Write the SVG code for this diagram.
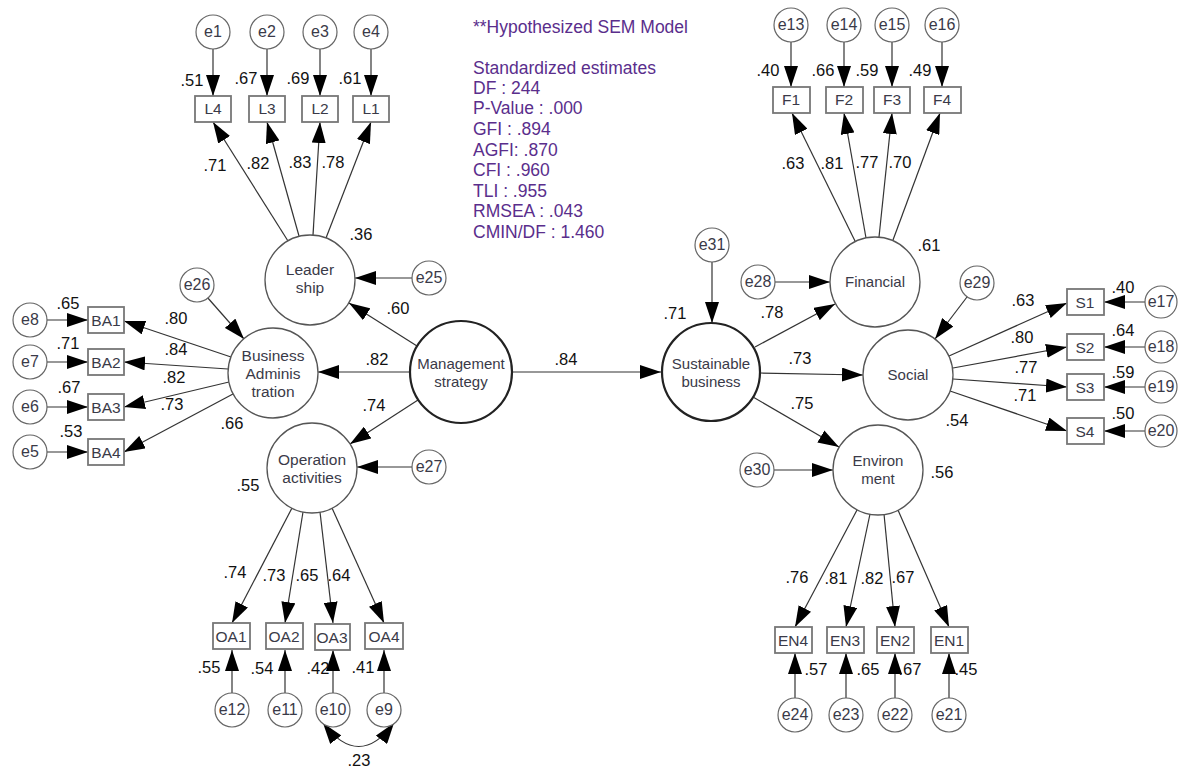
<svg xmlns="http://www.w3.org/2000/svg" width="1178" height="770" viewBox="0 0 1178 770">
<style>
.bg{fill:#fff}
.err{fill:#fff;stroke:#666;stroke-width:1.2}
.lat{fill:#fff;stroke:#555;stroke-width:1.3}
.lat2{fill:#fff;stroke:#222;stroke-width:2.2}
.box{fill:#fff;stroke:#777;stroke-width:1.8}
.lbl{font-family:"Liberation Sans",Arial,sans-serif;font-size:15.5px;fill:#3a3a48;text-anchor:middle}
.el{font-family:"Liberation Sans",Arial,sans-serif;font-size:16px;fill:#3a3a48;text-anchor:middle}
.num{font-family:"Liberation Sans",Arial,sans-serif;font-size:16.5px;fill:#111;text-anchor:middle}
.stat{font-family:"Liberation Sans",Arial,sans-serif;font-size:17.5px;fill:#5a2e8c}
.c line,.c path{stroke:#333;stroke-width:1.2;fill:none;marker-end:url(#ah)}
</style>
<defs>
<marker id="ah" viewBox="0 0 21 14" refX="21" refY="7" markerWidth="21" markerHeight="14" orient="auto" markerUnits="userSpaceOnUse"><path d="M0,0 L21,7 L0,14 z" fill="#000"/></marker>
<marker id="ahs" viewBox="0 0 21 14" refX="21" refY="7" markerWidth="21" markerHeight="14" orient="auto-start-reverse" markerUnits="userSpaceOnUse"><path d="M0,0 L21,7 L0,14 z" fill="#000"/></marker>
</defs>
<rect class="bg" width="1178" height="770"/>

<g id="connectors" class="c">
<line x1="288" y1="241" x2="213" y2="122"/>
<line x1="299" y1="236" x2="267" y2="122"/>
<line x1="313" y1="235" x2="320" y2="122"/>
<line x1="326" y1="238" x2="371" y2="122"/>
<line x1="213" y1="49" x2="213" y2="96"/>
<line x1="267" y1="49" x2="267" y2="96"/>
<line x1="320" y1="49" x2="320" y2="96"/>
<line x1="371" y1="49" x2="371" y2="96"/>
<line x1="855" y1="241" x2="792" y2="113"/>
<line x1="866" y1="238" x2="844" y2="113"/>
<line x1="879" y1="237" x2="892" y2="113"/>
<line x1="893" y1="240" x2="940" y2="113"/>
<line x1="791" y1="42" x2="791" y2="87"/>
<line x1="844" y1="42" x2="844" y2="87"/>
<line x1="892" y1="42" x2="892" y2="87"/>
<line x1="942" y1="42" x2="942" y2="87"/>
<line x1="231" y1="357" x2="124" y2="321"/>
<line x1="228" y1="369" x2="124" y2="362"/>
<line x1="229" y1="382" x2="124" y2="407"/>
<line x1="233" y1="394" x2="124" y2="452"/>
<line x1="47" y1="320" x2="88" y2="320"/>
<line x1="47" y1="362" x2="88" y2="362"/>
<line x1="47" y1="407" x2="88" y2="407"/>
<line x1="47" y1="452" x2="88" y2="452"/>
<line x1="949" y1="356" x2="1067" y2="303"/>
<line x1="953" y1="368" x2="1067" y2="347"/>
<line x1="953" y1="379" x2="1067" y2="387"/>
<line x1="950" y1="391" x2="1067" y2="431"/>
<line x1="1145" y1="302" x2="1104" y2="302"/>
<line x1="1145" y1="347" x2="1104" y2="347"/>
<line x1="1145" y1="387" x2="1104" y2="387"/>
<line x1="1145" y1="431" x2="1104" y2="431"/>
<line x1="292" y1="508" x2="232" y2="623"/>
<line x1="303" y1="512" x2="285" y2="623"/>
<line x1="320" y1="512" x2="333" y2="623"/>
<line x1="332" y1="508" x2="384" y2="623"/>
<line x1="232" y1="693" x2="232" y2="650"/>
<line x1="285" y1="693" x2="285" y2="650"/>
<line x1="333" y1="693" x2="333" y2="650"/>
<line x1="384" y1="693" x2="384" y2="650"/>
<line x1="857" y1="510" x2="795" y2="627"/>
<line x1="870" y1="514" x2="846" y2="627"/>
<line x1="884" y1="514" x2="895" y2="627"/>
<line x1="898" y1="510" x2="949" y2="627"/>
<line x1="795" y1="698" x2="795" y2="653"/>
<line x1="846" y1="698" x2="846" y2="653"/>
<line x1="895" y1="698" x2="895" y2="653"/>
<line x1="949" y1="698" x2="949" y2="653"/>
<line x1="410" y1="372" x2="318" y2="372"/>
<line x1="417" y1="346" x2="349" y2="303"/>
<line x1="418" y1="400" x2="350" y2="444"/>
<line x1="512" y1="372" x2="661" y2="372"/>
<line x1="712" y1="262" x2="712" y2="323"/>
<line x1="755" y1="347" x2="835" y2="304"/>
<line x1="760" y1="373" x2="863" y2="375"/>
<line x1="753" y1="397" x2="839" y2="447"/>
<line x1="775" y1="282" x2="830" y2="282"/>
<line x1="774" y1="470" x2="833" y2="470"/>
<line x1="967" y1="297" x2="935" y2="339"/>
<line x1="412" y1="278" x2="355" y2="278"/>
<line x1="207" y1="297" x2="244" y2="339"/>
<line x1="412" y1="467" x2="357" y2="467"/>
<path d="M323,723 Q359,770 394,723" style="marker-start:url(#ahs);marker-end:url(#ahs)"/>
</g>

<g id="leadership"><circle class="lat" cx="310" cy="280" r="45"/><text class="lbl" x="310" y="275">Leader</text><text class="lbl" x="310" y="293">ship</text></g>
<g id="business-administration"><circle class="lat" cx="273" cy="373" r="45"/><text class="lbl" x="273" y="361">Business</text><text class="lbl" x="273" y="379">Adminis</text><text class="lbl" x="273" y="397">tration</text></g>
<g id="operation-activities"><circle class="lat" cx="312" cy="468" r="45"/><text class="lbl" x="312" y="465">Operation</text><text class="lbl" x="312" y="483">activities</text></g>
<g id="management-strategy"><circle class="lat2" cx="461" cy="372" r="51"/><text class="lbl" x="461" y="369" style="font-size:15px">Management</text><text class="lbl" x="461" y="387" style="font-size:15px">strategy</text></g>
<g id="sustainable-business"><circle class="lat2" cx="711" cy="372" r="49"/><text class="lbl" x="711" y="369" style="font-size:15px">Sustainable</text><text class="lbl" x="711" y="387" style="font-size:15px">business</text></g>
<g id="financial"><circle class="lat" cx="875" cy="282" r="45"/><text class="lbl" x="875" y="287" style="font-size:15px">Financial</text></g>
<g id="social"><circle class="lat" cx="908" cy="375" r="45"/><text class="lbl" x="908" y="380" style="font-size:15px">Social</text></g>
<g id="environment"><circle class="lat" cx="878" cy="470" r="45"/><text class="lbl" x="878" y="466" style="font-size:15px">Environ</text><text class="lbl" x="878" y="484" style="font-size:15px">ment</text></g>

<g id="L4"><rect class="box" x="195" y="96" width="36" height="26"/><text class="lbl" x="213" y="114">L4</text></g>
<g id="L3"><rect class="box" x="249" y="96" width="36" height="26"/><text class="lbl" x="267" y="114">L3</text></g>
<g id="L2"><rect class="box" x="302" y="96" width="36" height="26"/><text class="lbl" x="320" y="114">L2</text></g>
<g id="L1"><rect class="box" x="353" y="96" width="36" height="26"/><text class="lbl" x="371" y="114">L1</text></g>
<g id="F1"><rect class="box" x="773" y="87" width="37" height="26"/><text class="lbl" x="791" y="105">F1</text></g>
<g id="F2"><rect class="box" x="826" y="87" width="37" height="26"/><text class="lbl" x="844" y="105">F2</text></g>
<g id="F3"><rect class="box" x="874" y="87" width="36" height="26"/><text class="lbl" x="892" y="105">F3</text></g>
<g id="F4"><rect class="box" x="924" y="87" width="37" height="26"/><text class="lbl" x="942" y="105">F4</text></g>
<g id="BA1"><rect class="box" x="88" y="307" width="36" height="26"/><text class="lbl" x="106" y="326">BA1</text></g>
<g id="BA2"><rect class="box" x="88" y="349" width="36" height="26"/><text class="lbl" x="106" y="368">BA2</text></g>
<g id="BA3"><rect class="box" x="88" y="394" width="36" height="26"/><text class="lbl" x="106" y="413">BA3</text></g>
<g id="BA4"><rect class="box" x="88" y="439" width="36" height="26"/><text class="lbl" x="106" y="458">BA4</text></g>
<g id="S1"><rect class="box" x="1067" y="289" width="37" height="26"/><text class="lbl" x="1085" y="308">S1</text></g>
<g id="S2"><rect class="box" x="1067" y="334" width="37" height="26"/><text class="lbl" x="1085" y="353">S2</text></g>
<g id="S3"><rect class="box" x="1067" y="374" width="37" height="26"/><text class="lbl" x="1085" y="393">S3</text></g>
<g id="S4"><rect class="box" x="1067" y="418" width="37" height="26"/><text class="lbl" x="1085" y="437">S4</text></g>
<g id="OA1"><rect class="box" x="213" y="623" width="37" height="26"/><text class="lbl" x="231" y="642">OA1</text></g>
<g id="OA2"><rect class="box" x="266" y="623" width="37" height="26"/><text class="lbl" x="284" y="642">OA2</text></g>
<g id="OA3"><rect class="box" x="315" y="624" width="35" height="26"/><text class="lbl" x="332" y="643">OA3</text></g>
<g id="OA4"><rect class="box" x="365" y="623" width="38" height="26"/><text class="lbl" x="384" y="642">OA4</text></g>
<g id="EN4"><rect class="box" x="775" y="627" width="37" height="26"/><text class="lbl" x="793" y="646">EN4</text></g>
<g id="EN3"><rect class="box" x="827" y="627" width="37" height="26"/><text class="lbl" x="845" y="646">EN3</text></g>
<g id="EN2"><rect class="box" x="877" y="627" width="37" height="26"/><text class="lbl" x="895" y="646">EN2</text></g>
<g id="EN1"><rect class="box" x="931" y="627" width="37" height="26"/><text class="lbl" x="949" y="646">EN1</text></g>

<g id="e1"><circle class="err" cx="213" cy="32" r="17"/><text class="el" x="213" y="37">e1</text></g>
<g id="e2"><circle class="err" cx="267" cy="32" r="17"/><text class="el" x="267" y="37">e2</text></g>
<g id="e3"><circle class="err" cx="320" cy="32" r="17"/><text class="el" x="320" y="37">e3</text></g>
<g id="e4"><circle class="err" cx="371" cy="32" r="17"/><text class="el" x="371" y="37">e4</text></g>
<g id="e13"><circle class="err" cx="791" cy="25" r="17"/><text class="el" x="791" y="30">e13</text></g>
<g id="e14"><circle class="err" cx="844" cy="25" r="17"/><text class="el" x="844" y="30">e14</text></g>
<g id="e15"><circle class="err" cx="892" cy="25" r="17"/><text class="el" x="892" y="30">e15</text></g>
<g id="e16"><circle class="err" cx="942" cy="25" r="17"/><text class="el" x="942" y="30">e16</text></g>
<g id="e8"><circle class="err" cx="30" cy="320" r="17"/><text class="el" x="30" y="325">e8</text></g>
<g id="e7"><circle class="err" cx="30" cy="362" r="17"/><text class="el" x="30" y="367">e7</text></g>
<g id="e6"><circle class="err" cx="30" cy="407" r="17"/><text class="el" x="30" y="412">e6</text></g>
<g id="e5"><circle class="err" cx="30" cy="452" r="17"/><text class="el" x="30" y="457">e5</text></g>
<g id="e17"><circle class="err" cx="1161" cy="302" r="16"/><text class="el" x="1161" y="307">e17</text></g>
<g id="e18"><circle class="err" cx="1161" cy="347" r="16"/><text class="el" x="1161" y="352">e18</text></g>
<g id="e19"><circle class="err" cx="1161" cy="387" r="16"/><text class="el" x="1161" y="392">e19</text></g>
<g id="e20"><circle class="err" cx="1161" cy="431" r="16"/><text class="el" x="1161" y="436">e20</text></g>
<g id="e12"><circle class="err" cx="232" cy="710" r="17"/><text class="el" x="232" y="715">e12</text></g>
<g id="e11"><circle class="err" cx="285" cy="710" r="17"/><text class="el" x="285" y="715">e11</text></g>
<g id="e10"><circle class="err" cx="333" cy="710" r="17"/><text class="el" x="333" y="715">e10</text></g>
<g id="e9"><circle class="err" cx="384" cy="710" r="17"/><text class="el" x="384" y="715">e9</text></g>
<g id="e24"><circle class="err" cx="795" cy="715" r="17"/><text class="el" x="795" y="720">e24</text></g>
<g id="e23"><circle class="err" cx="846" cy="715" r="17"/><text class="el" x="846" y="720">e23</text></g>
<g id="e22"><circle class="err" cx="895" cy="715" r="17"/><text class="el" x="895" y="720">e22</text></g>
<g id="e21"><circle class="err" cx="949" cy="715" r="17"/><text class="el" x="949" y="720">e21</text></g>
<g id="e25"><circle class="err" cx="429" cy="278" r="17"/><text class="el" x="429" y="283">e25</text></g>
<g id="e26"><circle class="err" cx="197" cy="285" r="17"/><text class="el" x="197" y="290">e26</text></g>
<g id="e27"><circle class="err" cx="429" cy="467" r="17"/><text class="el" x="429" y="472">e27</text></g>
<g id="e28"><circle class="err" cx="758" cy="282" r="17"/><text class="el" x="758" y="287">e28</text></g>
<g id="e29"><circle class="err" cx="977" cy="283" r="17"/><text class="el" x="977" y="288">e29</text></g>
<g id="e30"><circle class="err" cx="757" cy="470" r="17"/><text class="el" x="757" y="475">e30</text></g>
<g id="e31"><circle class="err" cx="712" cy="245" r="17"/><text class="el" x="712" y="250">e31</text></g>

<g id="estimates">
<text class="num" x="192" y="86">.51</text><text class="num" x="246" y="84">.67</text><text class="num" x="298" y="84">.69</text><text class="num" x="350" y="84">.61</text>
<text class="num" x="215" y="171">.71</text><text class="num" x="258" y="169">.82</text><text class="num" x="300" y="168">.83</text><text class="num" x="333" y="168">.78</text>
<text class="num" x="361" y="240">.36</text>
<text class="num" x="398" y="314">.60</text><text class="num" x="377" y="365">.82</text><text class="num" x="374" y="411">.74</text>
<text class="num" x="566" y="365">.84</text><text class="num" x="675" y="319">.71</text>
<text class="num" x="68" y="309">.65</text><text class="num" x="68" y="349">.71</text><text class="num" x="69" y="393">.67</text><text class="num" x="71" y="437">.53</text>
<text class="num" x="176" y="324">.80</text><text class="num" x="176" y="355">.84</text><text class="num" x="174" y="383">.82</text><text class="num" x="172" y="410">.73</text>
<text class="num" x="232" y="429">.66</text>
<text class="num" x="248" y="491">.55</text>
<text class="num" x="235" y="578">.74</text><text class="num" x="274" y="581">.73</text><text class="num" x="307" y="581">.65</text><text class="num" x="339" y="581">.64</text>
<text class="num" x="209" y="673">.55</text><text class="num" x="262" y="674">.54</text><text class="num" x="318" y="674">.42</text><text class="num" x="363" y="673">.41</text>
<text class="num" x="359" y="766">.23</text>
<text class="num" x="768" y="76">.40</text><text class="num" x="823" y="76">.66</text><text class="num" x="867" y="76">.59</text><text class="num" x="920" y="76">.49</text>
<text class="num" x="793" y="169">.63</text><text class="num" x="832" y="169">.81</text><text class="num" x="867" y="168">.77</text><text class="num" x="900" y="168">.70</text>
<text class="num" x="929" y="251">.61</text>
<text class="num" x="772" y="318">.78</text><text class="num" x="800" y="364">.73</text><text class="num" x="802" y="409">.75</text>
<text class="num" x="1023" y="306">.63</text><text class="num" x="1022" y="343">.80</text><text class="num" x="1026" y="373">.77</text><text class="num" x="1025" y="401">.71</text>
<text class="num" x="1123" y="293">.40</text><text class="num" x="1123" y="336">.64</text><text class="num" x="1123" y="378">.59</text><text class="num" x="1123" y="419">.50</text>
<text class="num" x="957" y="426">.54</text>
<text class="num" x="942" y="478">.56</text>
<text class="num" x="797" y="583">.76</text><text class="num" x="836" y="584">.81</text><text class="num" x="872" y="584">.82</text><text class="num" x="903" y="583">.67</text>
<text class="num" x="816" y="675">.57</text><text class="num" x="868" y="675">.65</text><text class="num" x="910" y="675">.67</text><text class="num" x="966" y="675">.45</text>
</g>

<g id="fit-statistics">
<text class="stat" x="473" y="33">**Hypothesized SEM Model</text>
<text class="stat" x="473" y="74">Standardized estimates</text>
<text class="stat" x="473" y="94">DF : 244</text>
<text class="stat" x="473" y="114">P-Value : .000</text>
<text class="stat" x="473" y="135">GFI : .894</text>
<text class="stat" x="473" y="156">AGFI: .870</text>
<text class="stat" x="473" y="176">CFI : .960</text>
<text class="stat" x="473" y="197">TLI : .955</text>
<text class="stat" x="473" y="217">RMSEA : .043</text>
<text class="stat" x="473" y="238">CMIN/DF : 1.460</text>
</g>
</svg>
